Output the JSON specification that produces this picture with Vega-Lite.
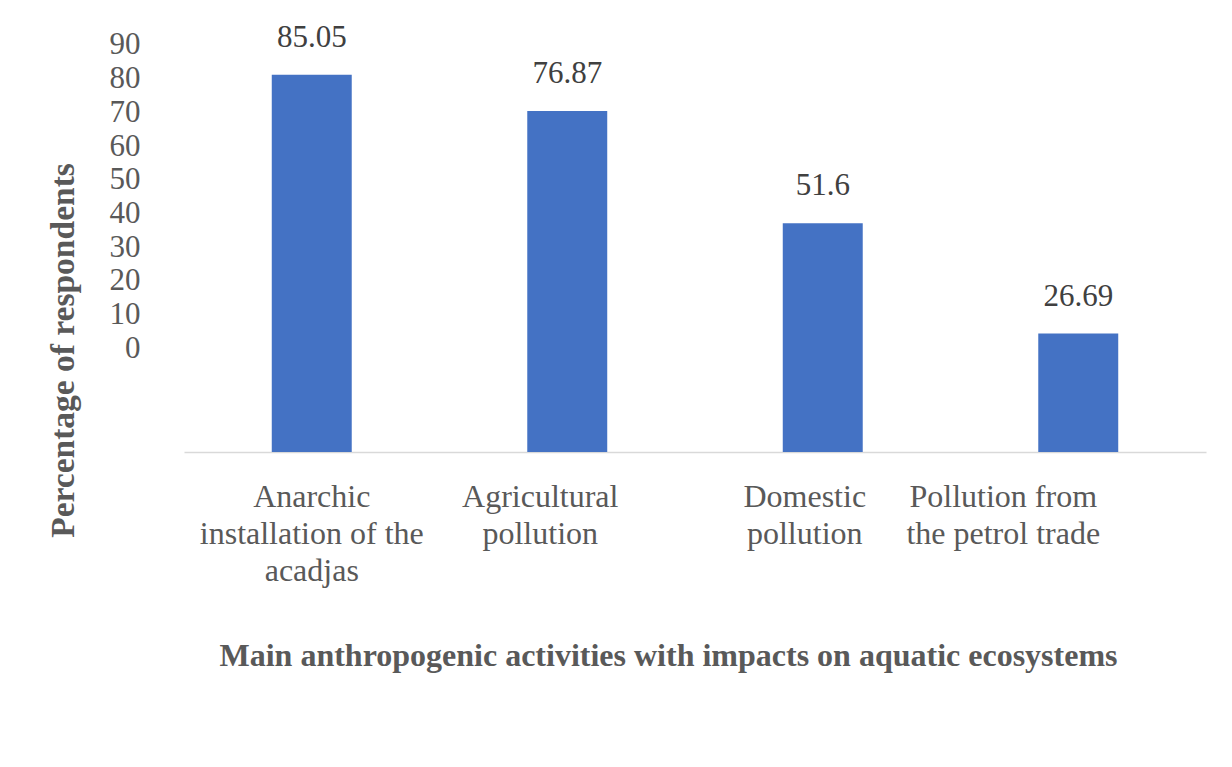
{
  "$schema": "https://vega.github.io/schema/vega-lite/v6.json",
  "autosize": "none",
  "width": 1022,
  "height": 432,
  "padding": {"left": 184, "top": 20, "right": 26, "bottom": 315},
  "background": "white",
  "config": {
    "font": "Liberation Serif",
    "view": {"stroke": null},
    "axis": {"labelFont": "Liberation Serif", "titleFont": "Liberation Serif", "labelColor": "#595959", "titleColor": "#595959"}
  },
  "data": {
    "values": [
      {"activity": "Anarchic installation of the acadjas", "pct": 85.05},
      {"activity": "Agricultural pollution", "pct": 76.87},
      {"activity": "Domestic pollution", "pct": 51.6},
      {"activity": "Pollution from the petrol trade", "pct": 26.69}
    ]
  },
  "encoding": {
    "x": {
      "field": "activity",
      "type": "nominal",
      "sort": null,
      "scale": {"paddingInner": 0.687, "paddingOuter": 0.3435},
      "axis": {
        "title": "Main anthropogenic activities with impacts on aquatic ecosystems",
        "titleFontSize": 32,
        "titleFontWeight": "bold",
        "titleX": 484,
        "titleY": 203,
        "titleBaseline": "middle",
        "titleAlign": "center",
        "titleLimit": 0,
        "labelAngle": 0,
        "labelFontSize": 32,
        "labelLimit": 0,
        "labelLineHeight": 37,
        "labelBaseline": "top",
        "labelPadding": 29,
        "labelOffset": {
          "condition": [
            {"test": "datum.value === 'Agricultural pollution'", "value": -27},
            {"test": "datum.value === 'Domestic pollution'", "value": -18},
            {"test": "datum.value === 'Pollution from the petrol trade'", "value": -75}
          ],
          "value": 0
        },
        "labelExpr": "datum.value === 'Anarchic installation of the acadjas' ? ['Anarchic', 'installation of the', 'acadjas'] : datum.value === 'Agricultural pollution' ? ['Agricultural', 'pollution'] : datum.value === 'Domestic pollution' ? ['Domestic', 'pollution'] : ['Pollution from', 'the petrol trade']",
        "ticks": false,
        "domainColor": "#d9d9d9",
        "domainWidth": 1.5
      }
    }
  },
  "layer": [
    {
      "mark": {"type": "bar", "color": "#4472C4"},
      "encoding": {
        "y": {"field": "pct", "type": "quantitative", "scale": {"domain": [0, 97.4], "nice": false, "zero": true}, "axis": null}
      }
    },
    {
      "mark": {"type": "text", "fontSize": 31, "color": "#404040", "baseline": "bottom", "dy": -21, "font": "Liberation Serif"},
      "encoding": {
        "y": {"field": "pct", "type": "quantitative", "scale": {"domain": [0, 97.4], "nice": false, "zero": true}, "axis": null},
        "text": {"field": "pct", "type": "quantitative", "format": ".4~f"}
      }
    },
    {
      "mark": {"type": "point", "opacity": 0},
      "encoding": {
        "y": {
          "field": "pct",
          "type": "quantitative",
          "scale": {"domain": [-30.86, 97.42], "nice": false, "zero": false},
          "axis": {
            "orient": "left",
            "values": [0, 10, 20, 30, 40, 50, 60, 70, 80, 90],
            "grid": false,
            "domain": false,
            "ticks": false,
            "labelFontSize": 31,
            "labelPadding": 44,
            "labelBaseline": "middle",
            "title": "Percentage of respondents",
            "titleFontSize": 33.5,
            "titleFontWeight": "bold",
            "titleLimit": 0,
            "titleAngle": -90,
            "titleX": -121,
            "titleY": 330,
            "titleBaseline": "middle",
            "titleAlign": "center"
          }
        }
      }
    }
  ],
  "resolve": {"scale": {"y": "independent"}}
}
